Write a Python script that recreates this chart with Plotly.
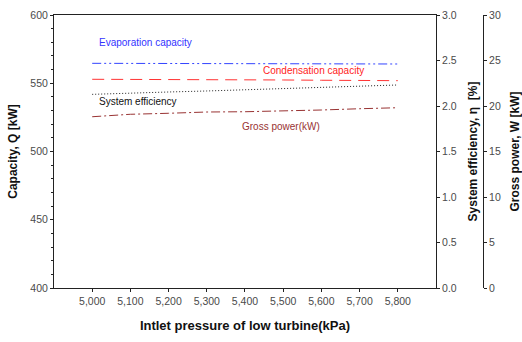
import plotly.graph_objects as go

pressure = [5000, 5100, 5200, 5300, 5400, 5500, 5600, 5700, 5800]
evaporation = [564.6, 564.6, 564.6, 564.6, 564.6, 564.6, 564.6, 564.5, 564.1]
condensation = [552.9, 552.9, 552.9, 552.9, 552.7, 552.4, 552.2, 552.0, 551.9]
efficiency = [2.128, 2.137, 2.154, 2.165, 2.179, 2.195, 2.203, 2.22, 2.231]
gross_power = [18.82, 19.09, 19.2, 19.34, 19.37, 19.45, 19.56, 19.70, 19.81]

x_ticks = [5000, 5100, 5200, 5300, 5400, 5500, 5600, 5700, 5800]

FONT = "Liberation Sans, Arial, sans-serif"
TICKCOL = "#4a4a4a"

fig = go.Figure()
fig.add_trace(go.Scatter(x=pressure, y=evaporation, mode="lines",
                         line=dict(color="#3344ff", width=1, dash="9px,3px,2px,3px,2px,3px"),
                         yaxis="y"))
fig.add_trace(go.Scatter(x=pressure, y=condensation, mode="lines",
                         line=dict(color="#ff3333", width=1, dash="12px,7px"),
                         yaxis="y"))
fig.add_trace(go.Scatter(x=pressure, y=efficiency, mode="lines",
                         line=dict(color="#222222", width=1, dash="1px,2px"),
                         yaxis="y2"))
fig.add_trace(go.Scatter(x=pressure, y=gross_power, mode="lines",
                         line=dict(color="#993333", width=1, dash="9px,3px,2px,3px"),
                         yaxis="y3"))

ann_font = dict(family=FONT, size=10)
fig.add_annotation(x=5013, y=579.5, xref="x", yref="y", text="Evaporation capacity",
                   showarrow=False, xanchor="left", font=dict(ann_font, color="#3333ff"))
fig.add_annotation(x=5441, y=559.0, xref="x", yref="y", text="Condensation capacity",
                   showarrow=False, xanchor="left", font=dict(ann_font, color="#ff2222"))
fig.add_annotation(x=5013, y=536.3, xref="x", yref="y", text="System efficiency",
                   showarrow=False, xanchor="left", font=dict(ann_font, color="#111111"))
fig.add_annotation(x=5388, y=518.0, xref="x", yref="y", text="Gross power(kW)",
                   showarrow=False, xanchor="left", font=dict(ann_font, color="#993333"))

axis_common = dict(showgrid=False, zeroline=False, showline=True, linecolor="#222222",
                   linewidth=1, ticks="outside", tickcolor="#222222", ticklen=3,
                   automargin=False,
                   tickfont=dict(family=FONT, size=10.5, color=TICKCOL))

fig.update_layout(
    width=522, height=342,
    margin=dict(l=54, r=39, t=15, b=54),
    paper_bgcolor="white", plot_bgcolor="white",
    showlegend=False,
    xaxis=dict(axis_common, domain=[0, 0.8904], range=[4900, 5900],
               tickvals=x_ticks, tickformat=",", mirror=True,
               title=dict(text="<b>Intlet pressure of low turbine(kPa)</b>",
                          font=dict(family=FONT, size=13, color="#111111"), standoff=15)),
    yaxis=dict(axis_common, range=[400, 600], dtick=50, mirror=False,
               minor=dict(dtick=10, ticks="outside", ticklen=2, tickcolor="#222222"),
               title=dict(text="<b>Capacity, Q [kW]</b>",
                          font=dict(family=FONT, size=12, color="#111111"), standoff=10)),
    yaxis2=dict(axis_common, range=[0, 3.0], dtick=0.5, tickformat=".1f",
                overlaying="y", side="right", anchor="x",
                title=dict(text="<b>System efficiency, η  [%]</b>",
                           font=dict(family=FONT, size=12, color="#111111"), standoff=12)),
    yaxis3=dict(axis_common, range=[0, 30], dtick=5,
                overlaying="y", side="right", anchor="free", position=1.0,
                title=dict(text="<b>Gross power, W [kW]</b>",
                           font=dict(family=FONT, size=12, color="#111111"), standoff=14)),
)

fig.write_html("out.html")
